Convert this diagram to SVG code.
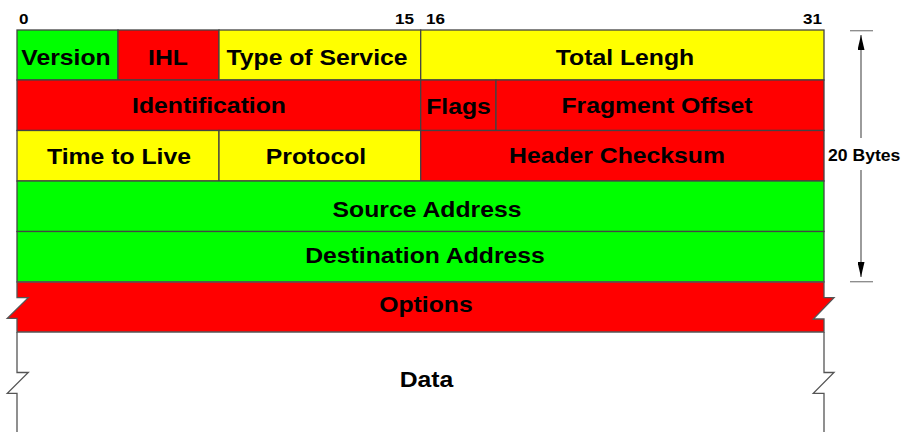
<svg xmlns="http://www.w3.org/2000/svg" width="904" height="432" viewBox="0 0 904 432">
  <style>
    .cell { stroke: #444; stroke-width: 1.3; }
    .g { fill: #00ff00; }
    .r { fill: #ff0000; }
    .y { fill: #ffff00; }
    .lbl { font-family: "Liberation Sans", Arial, sans-serif; font-weight: bold; font-size: 22.5px; text-anchor: middle; fill: #000; }
    .num { font-family: "Liberation Sans", Arial, sans-serif; font-weight: bold; font-size: 15.5px; fill: #000; }
    .dim { font-family: "Liberation Sans", Arial, sans-serif; font-weight: bold; font-size: 16px; fill: #000; }
    .edge { fill: none; stroke: #555; stroke-width: 1.3; }
    .tick { stroke: #888; stroke-width: 1.3; }
    .arrowline { stroke: #666; stroke-width: 1.3; fill: none; }
  </style>
  <defs>
    <marker id="arrow" viewBox="0 0 15 7" refX="15" refY="3.5" markerWidth="15" markerHeight="7" markerUnits="userSpaceOnUse" orient="auto">
      <path d="M0,0 L15,3.5 L0,7 z" fill="#000"/>
    </marker>
  </defs>

  <rect width="904" height="432" fill="#fff"/>

  <!-- bit position labels -->
  <g id="bit-numbers">
    <text class="num" transform="translate(19,24) scale(1.1 1)">0</text>
    <text class="num" text-anchor="end" transform="translate(414,24) scale(1.1 1)">15</text>
    <text class="num" transform="translate(426,24) scale(1.1 1)">16</text>
    <text class="num" text-anchor="end" transform="translate(822,24) scale(1.1 1)">31</text>
  </g>

  <!-- row 1 -->
  <g id="version">
    <rect class="cell g" x="17" y="30" width="101" height="50"/>
    <text class="lbl" transform="translate(66,65) scale(1.1 1)">Version</text>
  </g>
  <g id="ihl">
    <rect class="cell r" x="118" y="30" width="101" height="50"/>
    <text class="lbl" transform="translate(168,65) scale(1.1 1)">IHL</text>
  </g>
  <g id="type-of-service">
    <rect class="cell y" x="219" y="30" width="201.7" height="50"/>
    <text class="lbl" transform="translate(317,65) scale(1.1 1)">Type of Service</text>
  </g>
  <g id="total-length">
    <rect class="cell y" x="420.7" y="30" width="403.3" height="50"/>
    <text class="lbl" transform="translate(625,65) scale(1.1 1)">Total Lengh</text>
  </g>

  <!-- row 2 -->
  <g id="identification">
    <rect class="cell r" x="17" y="80" width="403.7" height="50.5"/>
    <text class="lbl" transform="translate(209,113) scale(1.1 1)">Identification</text>
  </g>
  <g id="flags">
    <rect class="cell r" x="420.7" y="80" width="75.3" height="50.5"/>
    <text class="lbl" transform="translate(458.5,114) scale(1.1 1)">Flags</text>
  </g>
  <g id="fragment-offset">
    <rect class="cell r" x="496" y="80" width="328" height="50.5"/>
    <text class="lbl" transform="translate(657,113) scale(1.1 1)">Fragment Offset</text>
  </g>

  <!-- row 3 -->
  <g id="time-to-live">
    <rect class="cell y" x="17" y="130.5" width="202" height="50.5"/>
    <text class="lbl" transform="translate(119,164) scale(1.1 1)">Time to Live</text>
  </g>
  <g id="protocol">
    <rect class="cell y" x="219" y="130.5" width="201.7" height="50.5"/>
    <text class="lbl" transform="translate(316,164) scale(1.1 1)">Protocol</text>
  </g>
  <g id="header-checksum">
    <rect class="cell r" x="420.7" y="130.5" width="403.3" height="50.5"/>
    <text class="lbl" transform="translate(617,163) scale(1.1 1)">Header Checksum</text>
  </g>

  <!-- rows 4 and 5 -->
  <g id="source-address">
    <rect class="cell g" x="17" y="181" width="807" height="50.5"/>
    <text class="lbl" transform="translate(427,217) scale(1.1 1)">Source Address</text>
  </g>
  <g id="destination-address">
    <rect class="cell g" x="17" y="231.5" width="807" height="50.5"/>
    <text class="lbl" transform="translate(425,263) scale(1.1 1)">Destination Address</text>
  </g>

  <!-- options, with broken edges on both sides -->
  <g id="options">
    <path class="r" d="M17,282 H824 V297.7 H834 L813.3,319 H824 V332 H17 V318.3 H7.3 L28.3,297.7 H17 Z"/>
    <path class="edge" d="M17,282 H824 V297.7 H834 L813.3,319 H824 V332 H17 V318.3 H7.3 L28.3,297.7 H17 Z"/>
    <text class="lbl" transform="translate(426,312) scale(1.1 1)">Options</text>
  </g>

  <!-- data, open at the bottom -->
  <g id="data">
    <path class="edge" d="M17,332 V372.5 H28.3 L7.3,393.3 H17 V432"/>
    <path class="edge" d="M824,332 V372.5 H834 L813.3,393.3 H824 V432"/>
    <text class="lbl" transform="translate(426.5,387) scale(1.1 1)">Data</text>
  </g>

  <!-- header size dimension -->
  <g id="connectors">
    <line class="tick" x1="850" y1="30.7" x2="873" y2="30.7"/>
    <line class="tick" x1="850" y1="281.7" x2="873" y2="281.7"/>
    <line class="arrowline" x1="861" y1="138" x2="861" y2="35" marker-end="url(#arrow)"/>
    <line class="arrowline" x1="861" y1="170" x2="861" y2="277" marker-end="url(#arrow)"/>
    <text class="dim" transform="translate(828,161) scale(1.1 1)">20 Bytes</text>
  </g>
</svg>
